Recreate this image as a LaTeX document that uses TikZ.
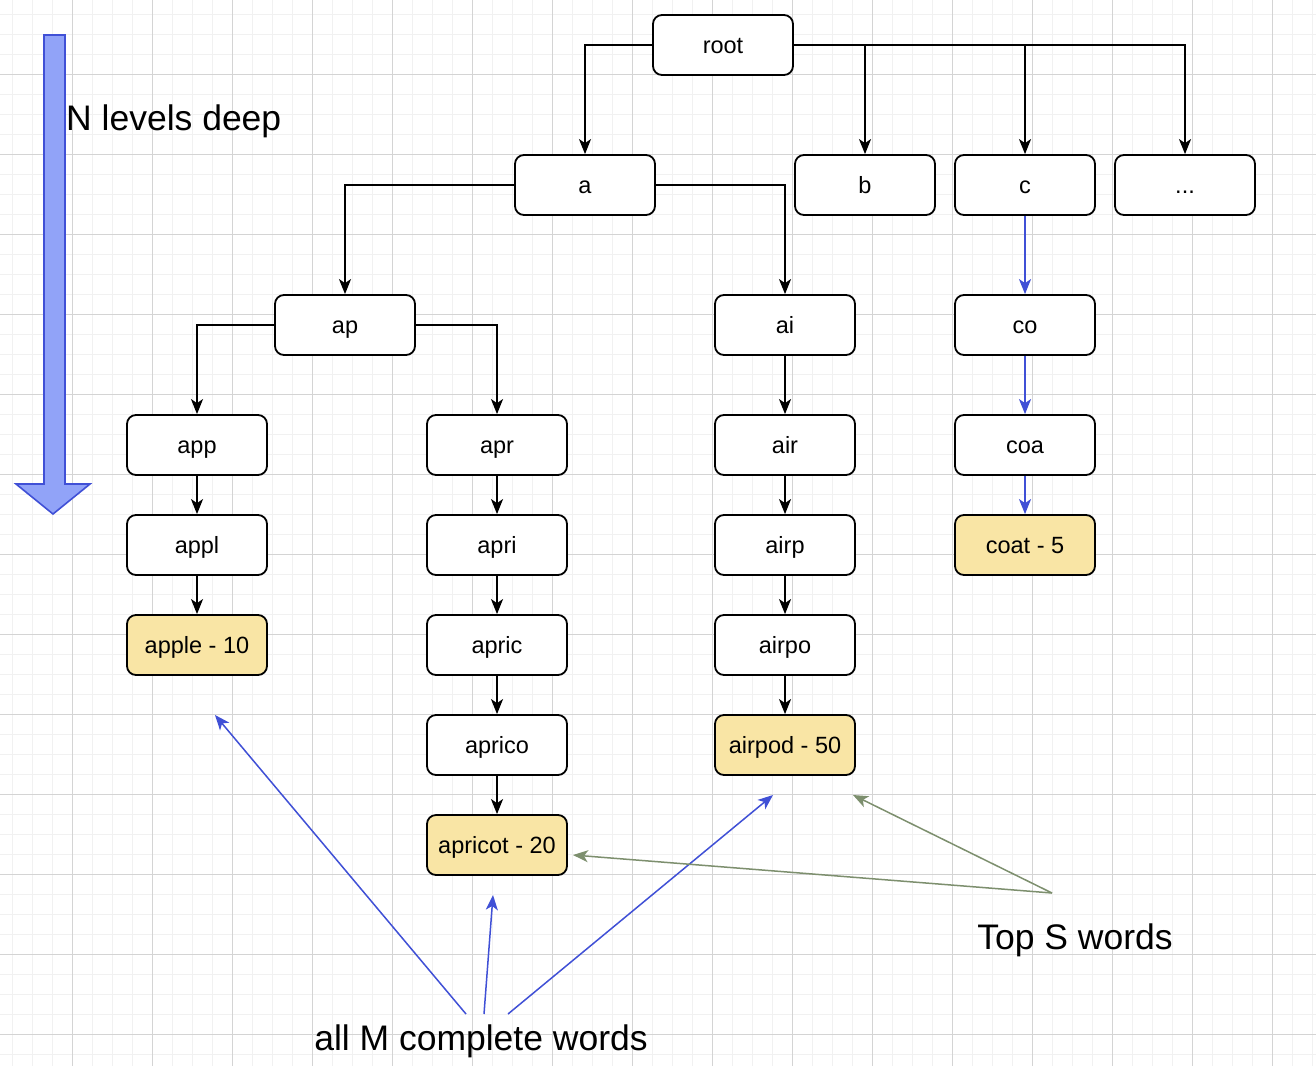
\documentclass[tikz,border=0pt]{standalone}
\usepackage{fontspec}
\setmainfont{Liberation Sans}
\usetikzlibrary{arrows.meta}
\definecolor{gridminor}{HTML}{F1F1F1}
\definecolor{gridmajor}{HTML}{D4D4D4}
\definecolor{wordfill}{HTML}{F9E5A5}
\definecolor{annblue}{HTML}{4050D6}
\definecolor{arrowfill}{HTML}{91A3F8}
\definecolor{anngreen}{HTML}{7D8F6E}
\tikzset{
  trienode/.style={draw, line width=1.8pt, rounded corners=9pt, minimum width=140pt, minimum height=60pt, inner sep=0pt, text height=21pt, text depth=5pt, fill=white, font=\fontsize{23.5}{28}\selectfont},
  wordnode/.style={trienode, fill=wordfill},
  edge/.style={line width=1.8pt, -{Stealth[length=15pt,width=12pt,inset=4pt]}},
  blueedge/.style={edge, draw=annblue, color=annblue},
  annarrow/.style={line width=1.5pt, -{Stealth[length=15pt,width=12pt,inset=4pt]}},
  anntext/.style={font=\fontsize{35.5}{42}\selectfont, inner sep=0pt},
}
\begin{document}
\begin{tikzpicture}[x=1pt,y=-1pt]
\useasboundingbox (0,0) rectangle (1316,1066);
\fill[white] (0,0) rectangle (1316,1066);
% grid
\foreach \x in {12,32,...,1316} \draw[gridminor, line width=0.8pt] (\x,0) -- (\x,1066);
\foreach \y in {14,34,...,1066} \draw[gridminor, line width=0.8pt] (0,\y) -- (1316,\y);
\foreach \x in {72,152,...,1316} \draw[gridmajor, line width=1pt] (\x,0) -- (\x,1066);
\foreach \y in {74,154,...,1066} \draw[gridmajor, line width=1pt] (0,\y) -- (1316,\y);

% big arrow
\draw[annblue, fill=arrowfill, line width=1.6pt, line join=miter]
  (44,35) -- (65,35) -- (65,484) -- (90,484) -- (53,514) -- (16,484) -- (44,484) -- cycle;
\node[anntext, anchor=west] (nlev) at (66,121) {N levels deep};

% nodes
\node[trienode] (root) at (723,45) {root};
\node[trienode] (a) at (585,185) {a};
\node[trienode] (b) at (865,185) {b};
\node[trienode] (c) at (1025,185) {c};
\node[trienode] (dots) at (1185,185) {...};
\node[trienode] (ap) at (345,325) {ap};
\node[trienode] (ai) at (785,325) {ai};
\node[trienode] (co) at (1025,325) {co};
\node[trienode] (app) at (197,445) {app};
\node[trienode] (apr) at (497,445) {apr};
\node[trienode] (air) at (785,445) {air};
\node[trienode] (coa) at (1025,445) {coa};
\node[trienode] (appl) at (197,545) {appl};
\node[trienode] (apri) at (497,545) {apri};
\node[trienode] (airp) at (785,545) {airp};
\node[wordnode] (coat) at (1025,545) {coat - 5};
\node[wordnode] (apple) at (197,645) {apple - 10};
\node[trienode] (apric) at (497,645) {apric};
\node[trienode] (airpo) at (785,645) {airpo};
\node[trienode] (aprico) at (497,745) {aprico};
\node[wordnode] (airpod) at (785,745) {airpod - 50};
\node[wordnode] (apricot) at (497,845) {apricot - 20};

% tree edges
\draw[edge] (root.west) -| (a.north);
\draw[edge] (root.east) -| (b.north);
\draw[edge] (root.east) -| (c.north);
\draw[edge] (root.east) -| (dots.north);
\draw[edge] (a.west) -| (ap.north);
\draw[edge] (a.east) -| (ai.north);
\draw[edge] (ap.west) -| (app.north);
\draw[edge] (ap.east) -| (apr.north);
\draw[edge] (app) -- (appl);
\draw[edge] (appl) -- (apple);
\draw[edge] (apr) -- (apri);
\draw[edge] (apri) -- (apric);
\draw[edge] (apric) -- (aprico);
\draw[edge] (aprico) -- (apricot);
\draw[edge] (ai) -- (air);
\draw[edge] (air) -- (airp);
\draw[edge] (airp) -- (airpo);
\draw[edge] (airpo) -- (airpod);
\draw[blueedge] (c) -- (co);
\draw[blueedge] (co) -- (coa);
\draw[blueedge] (coa) -- (coat);

% annotations
\node[anntext] (allm) at (481,1041) {all M complete words};
\node[anntext] (tops) at (1075,940) {Top S words};
\coordinate (b1s) at (466,1014);
\coordinate (b1e) at (215,715);
\coordinate (b2s) at (484,1014);
\coordinate (b2e) at (493,895);
\coordinate (b3s) at (508,1014);
\coordinate (b3e) at (773,795);
\coordinate (gs) at (1052,893);
\coordinate (g1e) at (573,855);
\coordinate (g2e) at (853,795);
\draw[annarrow, annblue] (b1s) -- (b1e);
\draw[annarrow, annblue] (b2s) -- (b2e);
\draw[annarrow, annblue] (b3s) -- (b3e);
\draw[annarrow, anngreen] (gs) -- (g1e);
\draw[annarrow, anngreen] (gs) -- (g2e);
\end{tikzpicture}
\end{document}
